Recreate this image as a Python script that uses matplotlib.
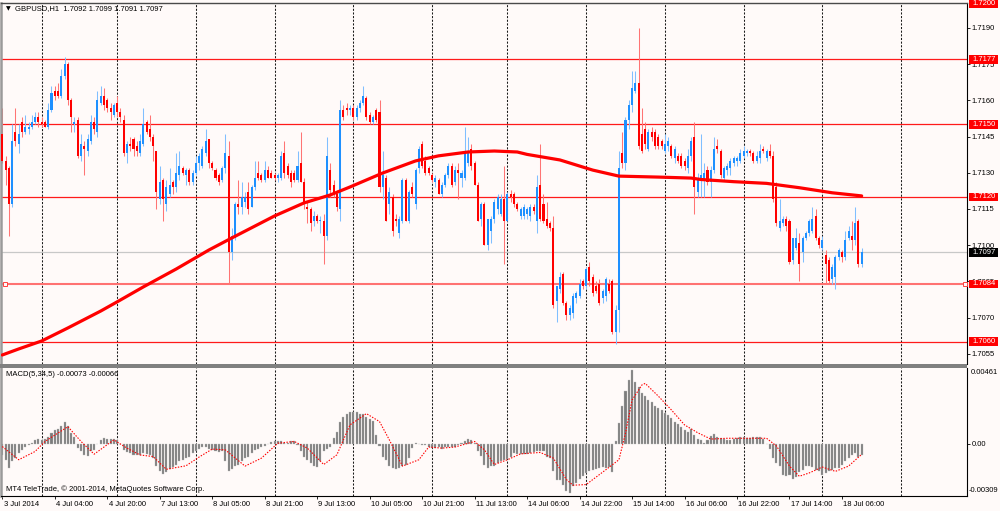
import matplotlib
matplotlib.use("Agg")
import matplotlib.pyplot as plt
from matplotlib.patches import Rectangle
from matplotlib.transforms import blended_transform_factory as blend
import numpy as np

plt.rcParams['font.family'] = ['Liberation Sans', 'DejaVu Sans']

# ---------------- data: prices in pips above 1.7000 ----------------
BASE = 1.7
PIP = 0.0001

opens = [
    146, 135, 132, 117, 147, 142, 151, 147, 148, 149,
    151, 153, 151, 151, 149, 156, 164, 164, 162, 170,
    175, 160, 150, 152, 137, 141, 139, 143, 151, 147,
    159, 162, 160, 157, 154, 159, 155, 152, 138, 142,
    144, 141, 138, 142, 151, 148, 145, 139, 119, 127,
    117, 121, 126, 124, 129, 132, 129, 131, 126, 130,
    134, 133, 138, 144, 134, 131, 129, 127, 132, 137,
    97, 103, 117, 116, 118, 122, 116, 124, 130, 129,
    127, 131, 130, 129, 128, 128, 138, 133, 130, 130,
    127, 134, 126, 116, 115, 110, 112, 110, 110, 104,
    131, 125, 121, 115, 156, 157, 156, 157, 153, 157,
    159, 161, 154, 151, 156, 155, 124, 128, 117, 120,
    111, 105, 110, 127, 110, 124, 117, 132, 142, 135,
    132, 129, 126, 127, 121, 125, 129, 133, 126, 131,
    128, 128, 134, 140, 134, 125, 111, 117, 100, 106,
    111, 115, 113, 119, 110, 121, 121, 117, 112, 112,
    113, 112, 116, 110, 125, 117, 111, 109, 107, 77,
    82, 88, 76, 71, 72, 78, 79, 85, 83, 91,
    87, 83, 84, 78, 79, 84, 85, 64, 73, 138,
    134, 152, 158, 164, 167, 146, 148, 140, 147, 147,
    145, 143, 139, 141, 141, 136, 137, 137, 135, 132,
    137, 145, 122, 128, 127, 131, 126, 131, 141, 139,
    128, 131, 132, 134, 135, 135, 137, 138, 139, 138,
    135, 136, 140, 136, 139, 137, 124, 107, 109, 111,
    110, 94, 99, 101, 97, 103, 105, 106, 112, 103,
    99, 96, 94, 86, 87, 95, 97, 95, 103, 104,
    102, 110, 92]

highs = [
    157, 137, 133, 150, 157, 150, 153, 154, 151, 154,
    155, 155, 153, 152, 159, 166, 166, 167, 173, 178,
    176, 161, 153, 153, 146, 143, 146, 154, 153, 164,
    166, 165, 161, 159, 159, 162, 157, 154, 143, 145,
    145, 143, 146, 157, 152, 154, 146, 139, 133, 128,
    127, 132, 127, 138, 139, 133, 132, 132, 131, 137,
    138, 141, 148, 144, 135, 132, 130, 133, 146, 143,
    107, 118, 127, 126, 122, 126, 125, 135, 135, 130,
    135, 133, 131, 130, 130, 139, 143, 134, 131, 131,
    139, 147, 128, 118, 116, 114, 113, 112, 113, 145,
    134, 127, 123, 160, 158, 159, 158, 158, 158, 160,
    166, 162, 155, 154, 157, 160, 139, 129, 124, 121,
    113, 112, 128, 128, 123, 126, 132, 141, 143, 137,
    133, 130, 129, 128, 126, 130, 134, 134, 133, 134,
    131, 149, 145, 142, 135, 126, 118, 118, 111, 112,
    119, 121, 121, 133, 122, 123, 122, 118, 116, 117,
    116, 117, 117, 129, 142, 121, 118, 110, 112, 83,
    89, 89, 77, 75, 80, 81, 86, 86, 91, 93,
    88, 85, 86, 82, 87, 86, 86, 75, 139, 147,
    153, 160, 172, 172, 190, 157, 151, 148, 149, 148,
    146, 144, 146, 145, 142, 141, 138, 138, 136, 140,
    145, 151, 130, 146, 134, 133, 133, 145, 144, 140,
    133, 134, 136, 137, 137, 140, 141, 140, 140, 139,
    139, 142, 141, 140, 142, 139, 126, 119, 112, 112,
    111, 103, 107, 105, 104, 106, 111, 116, 115, 104,
    104, 98, 95, 92, 96, 99, 98, 106, 108, 110,
    116, 111, 99]

lows = [
    134, 125, 104, 116, 141, 138, 145, 146, 146, 148,
    150, 149, 149, 149, 148, 155, 160, 161, 161, 169,
    158, 147, 147, 136, 135, 129, 137, 142, 146, 145,
    158, 156, 155, 152, 153, 153, 151, 137, 134, 139,
    137, 137, 137, 141, 146, 143, 135, 115, 117, 110,
    114, 120, 121, 122, 127, 129, 125, 125, 125, 129,
    131, 132, 137, 132, 131, 127, 125, 126, 130, 84,
    94, 102, 113, 113, 116, 113, 116, 123, 127, 126,
    126, 128, 128, 127, 126, 127, 128, 128, 124, 126,
    126, 126, 115, 109, 106, 108, 109, 105, 92, 102,
    120, 120, 114, 110, 152, 154, 154, 152, 152, 155,
    158, 152, 150, 150, 151, 122, 119, 110, 113, 104,
    108, 103, 109, 110, 109, 120, 115, 130, 132, 129,
    129, 126, 124, 121, 120, 124, 128, 124, 125, 119,
    124, 127, 133, 131, 125, 110, 108, 100, 98, 101,
    109, 113, 112, 92, 110, 118, 116, 114, 111, 111,
    111, 110, 113, 105, 110, 109, 107, 106, 74, 68,
    80, 75, 69, 69, 70, 76, 78, 82, 82, 83,
    79, 80, 75, 76, 77, 80, 63, 59, 64, 132,
    131, 148, 155, 163, 140, 138, 140, 139, 143, 140,
    140, 140, 138, 139, 136, 134, 134, 132, 131, 130,
    135, 113, 120, 120, 120, 125, 120, 130, 138, 128,
    127, 129, 129, 133, 133, 134, 136, 137, 137, 134,
    134, 134, 138, 135, 136, 118, 108, 106, 108, 106,
    92, 92, 98, 85, 93, 102, 104, 105, 102, 99,
    98, 84, 84, 84, 82, 94, 93, 94, 102, 98,
    100, 91, 91]

closes = [
    135, 131, 117, 143, 143, 146, 147, 149, 149, 151,
    153, 151, 150, 149, 156, 163, 162, 162, 170, 175,
    160, 153, 151, 137, 142, 140, 144, 151, 148, 160,
    162, 158, 157, 155, 158, 155, 153, 138, 142, 141,
    140, 139, 143, 150, 147, 145, 141, 122, 126, 119,
    124, 125, 124, 130, 133, 130, 131, 126, 130, 134,
    137, 140, 143, 134, 132, 128, 126, 132, 138, 97,
    104, 117, 116, 120, 120, 115, 124, 128, 128, 127,
    131, 128, 128, 128, 129, 137, 130, 129, 126, 127,
    133, 126, 117, 115, 109, 112, 110, 110, 104, 137,
    123, 121, 116, 156, 153, 156, 157, 153, 157, 159,
    162, 153, 151, 153, 152, 124, 129, 110, 122, 106,
    110, 111, 127, 110, 122, 121, 131, 140, 133, 130,
    130, 127, 128, 121, 125, 129, 133, 125, 131, 130,
    130, 138, 138, 133, 125, 110, 117, 100, 111, 111,
    118, 120, 119, 110, 121, 120, 117, 115, 115, 116,
    115, 116, 114, 124, 111, 110, 108, 107, 75, 83,
    87, 76, 71, 74, 79, 80, 84, 83, 90, 85,
    80, 81, 76, 81, 86, 81, 64, 73, 132, 134,
    152, 158, 165, 167, 141, 139, 142, 147, 145, 141,
    141, 141, 142, 143, 137, 140, 135, 133, 133, 137,
    143, 124, 128, 129, 130, 126, 131, 140, 140, 129,
    132, 133, 135, 136, 136, 138, 139, 139, 138, 135,
    137, 139, 139, 139, 137, 119, 109, 110, 111, 108,
    93, 103, 103, 92, 103, 105, 110, 111, 103, 100,
    102, 92, 85, 91, 95, 98, 95, 102, 106, 102,
    109, 92, 97]

# moving average (thick red line), sampled at bar indices
ma_idx = [0, 5, 12, 20, 30, 35, 43, 53, 63, 70, 83, 92, 100, 106, 116, 126,
          133, 142, 150, 157, 160, 170, 180, 188, 200, 210, 213, 223, 233,
          243, 253, 262]
ma_vals = [54.5, 57.0, 60.3, 65.7, 72.7, 76.5, 82.7, 90.1, 98.0, 103.0, 112.1,
           117.5, 120.8, 124.1, 129.9, 134.9, 137.0, 138.6, 139.0, 138.6,
           137.6, 135.3, 131.1, 128.6, 128.2, 127.8, 127.2, 126.3, 125.6,
           123.8, 121.7, 120.4]

# MACD histogram (units of 0.0001)
macd_hist = [
    -6.9, -10, -15, -11, -9, -6, -4, -2, -0.6, 0.8,
    2.5, 3, 2.5, 3, 4, 7, 8.8, 9.4, 11, 14,
    11, 7, 4, -2.7, -4.8, -6.9, -7.5, -4.8, -3.8, 0,
    2.5, 3.5, 3.3, 3.3, 3, 2.5, 0, -4, -5, -6,
    -7, -7.3, -7, -6, -6.3, -7, -9, -14, -17, -19,
    -18, -16, -14.6, -13, -11, -10, -9, -8, -6, -4.8,
    -3.3, -2, -2, -3.3, -4, -4.8, -5.4, -4.8, -11, -17,
    -16, -14, -13, -11, -9, -8, -6, -4, -3.3, -2,
    -1.3, 0, 1, 2, 1.9, 1.5, 0.8, 0.8, 1.5, 2,
    -0.6, -4.8, -8, -10, -12, -13.8, -14.6, -11, -4.8, -3.3,
    -2, 3.5, 7.7, 14, 17, 19, 20, 20, 20, 19,
    19, 17, 15.4, 14.6, 5.6, -1.3, -8, -10, -13.8, -15,
    -16, -15, -14, -13, -9, -2.7, 0.4, 0, -0.6, -0.6,
    -2, -2.7, -2.7, -2, -3.3, -2, -2, -1.7, -2, -0.6,
    0.4, 1.5, 3, 2.5, 0.4, -4.8, -7.5, -13, -15, -14,
    -13.8, -12, -11, -10.4, -9.6, -8, -5.8, -6.3, -6.3, -6.3,
    -6.3, -5.8, -5.4, -4.8, -4.2, -4.8, -8, -9, -17, -23,
    -23, -25.6, -29.5, -30.9, -26.7, -24.6, -22, -20, -18.3, -17.3,
    -16.3, -15.8, -15.2, -14.6, -15.2, -14.6, -18, 2, 13, 24,
    33, 40, 46.1, 39, 36, 32, 30, 27.5, 26, 23.8,
    22.3, 21.3, 19.6, 18, 16, 14, 12.5, 10.8, 8.8, 7.7,
    9.2, 5.6, 3, 2.5, 0.8, 2.5, 5, 6.3, 4.2, 3.5,
    3, 2.5, 2.5, 3, 3.5, 4.2, 4, 3.5, 3.5, 4,
    4.2, 4.2, 3, 0, -3.3, -9, -12, -14, -19.4, -20,
    -19.4, -22, -20.8, -18, -16.3, -14.2, -13.8, -14.6, -16.3, -17.3,
    -19.4, -18.3, -17.3, -16.3, -15.2, -15.2, -13, -11, -9, -6.9,
    -5.8, -8, -7.3]

# MACD signal line (units of 0.0001), sampled at bar indices
sig_idx = [0, 5, 10, 13, 20, 24, 28, 34, 38, 42, 46, 50, 56, 60, 64, 68, 74,
           79, 84, 89, 93, 98, 102, 106, 111, 115, 118, 122, 127, 130, 134,
           138, 144, 147, 150, 154, 158, 164, 168, 172, 174, 178, 184, 188,
           190, 192, 195, 196, 200, 204, 208, 212, 216, 221, 227, 233, 236,
           240, 243, 246, 250, 254, 258, 262]
sig_vals = [-1.7, -10, -4.8, 1.5, 10.8, 1.5, -6.5, 2.5, -2.7, -7, -8, -16,
            -13.8, -8.3, -3.3, -3.8, -14, -9, 0.4, 1.5, -2.7, -13, -6.9, 11.9,
            19, 14, 2.5, -14, -10, -2, -2.7, -2, 1.5, -3.8, -13, -10, -6.3,
            -5.4, -9, -22.5, -26, -25.6, -16.3, -10, 6.7, 27.5, 37, 38, 30,
            21.3, 11.9, 7, 3, 3.5, 3.5, 3.5, -1.3, -14, -20.4, -18.3, -14.6,
            -17.3, -14, -6.6]

date_labels = ["3 Jul 2014", "4 Jul 04:00", "4 Jul 20:00", "7 Jul 13:00",
               "8 Jul 05:00", "8 Jul 21:00", "9 Jul 13:00", "10 Jul 05:00",
               "10 Jul 21:00", "11 Jul 13:00", "14 Jul 06:00", "14 Jul 22:00",
               "15 Jul 14:00", "16 Jul 06:00", "16 Jul 22:00", "17 Jul 14:00",
               "18 Jul 06:00"]
label_step = 16
day_starts = [12, 35, 59, 83, 107, 131, 154, 178, 202, 226, 250, 274]

level_lines = [1.7177, 1.7150, 1.7120, 1.7084, 1.7060]
top_level = 1.7200          # line lies on the top edge; only its label shows
selected_level = 1.7084
bid = 1.7097
price_ticks = [1.7055, 1.7070, 1.7085, 1.7100, 1.7115, 1.7130, 1.7145,
               1.7160, 1.7175, 1.7190]
macd_max, macd_min = 0.00461, -0.00309
header = "GBPUSD,H1  1.7092 1.7099 1.7091 1.7097"
macd_title = "MACD(5,34,5) -0.00073 -0.00066"
copyright_txt = "MT4 TeleTrade, \u00a9 2001-2014, MetaQuotes Software Corp."

# ---------------- figure ----------------
W, H = 1000, 511
BG = '#fffaf9'
FS = 5.5
fig = plt.figure(figsize=(W / 100, H / 100), dpi=100, facecolor=BG)


def add_ax(l, t, r, b):
    a = fig.add_axes([l / W, 1 - b / H, (r - l) / W, (b - t) / H])
    a.set_facecolor(BG)
    return a


XL, XR = 1, 967
BAR_PX = 3.28
ax = add_ax(XL, 3, XR, 364)
axm = add_ax(XL, 368, XR, 495.5)
x0 = -(2.3 - XL) / BAR_PX
xlim = (x0, x0 + (XR - XL) / BAR_PX)

o = BASE + np.array(opens) * PIP
h = BASE + np.array(highs) * PIP
l = BASE + np.array(lows) * PIP
c = BASE + np.array(closes) * PIP
x = np.arange(len(c))
up = c >= o

# price panel
PX_PER_UNIT = 24137.0
ax.set_xlim(*xlim)
ax.set_ylim(1.7177 - (364 - 59.3) / PX_PER_UNIT, 1.7177 + (59.3 - 3) / PX_PER_UNIT)

grid_kw = dict(color='#1a1a1a', lw=0.75, ls=(0, (2.0, 1.5)), zorder=1)
for d in day_starts:
    ax.axvline(d, **grid_kw)
    axm.axvline(d, **grid_kw)

for lv in level_lines:
    if lv == selected_level:
        ax.axhline(lv, color='#ff7272', lw=1.5, zorder=1.5)
    else:
        ax.axhline(lv, color='#ff1a1a', lw=0.9, zorder=1.5)
ax.axhline(bid, color='#c8c8c8', lw=0.9, zorder=1.4)
tr_ad = blend(ax.transAxes, ax.transData)
ax.plot([0.004, 0.9975], [selected_level, selected_level], transform=tr_ad,
        ls='none', marker='s', ms=3.2, mfc=BG, mec='#ff4040', mew=0.7,
        clip_on=False, zorder=6)

body_col = np.where(up, '#1e90ff', '#ff0000')
wick_col = np.where(up, '#80bfff', '#ff7474')
ax.vlines(x, l, h, colors=wick_col, lw=0.75, zorder=2)
ax.bar(x, np.maximum(np.abs(c - o), 0.00003), bottom=np.minimum(o, c),
       width=0.62, color=body_col, lw=0, zorder=3)

ax.plot(ma_idx, BASE + np.array(ma_vals) * PIP, color='#ff0000', lw=2.3,
        solid_capstyle='round', solid_joinstyle='round', zorder=4)

ax.set_xticks([])
ax.yaxis.tick_right()
ax.set_yticks(price_ticks)
ax.set_yticklabels([f'{t:.4f}' for t in price_ticks])
ax.tick_params(axis='y', length=2.3, width=0.6, pad=1.2, labelsize=FS,
               colors='black')
ax.spines['bottom'].set_visible(False)
ax.spines['top'].set_color('#4a4a4a')
ax.spines['top'].set_linewidth(1.0)
ax.spines['left'].set_color('#9a9a9a')
ax.spines['left'].set_linewidth(1.8)
ax.spines['right'].set_color('black')
ax.spines['right'].set_linewidth(0.8)

# right-side price boxes
box_h = 8.5 / PX_PER_UNIT
bx0 = (969 - XL) / (XR - XL)
bx1 = (998.5 - XL) / (XR - XL)
boxes = [(top_level, '#ff0000')] + [(lv, '#ff0000') for lv in level_lines] \
    + [(bid, '#000000')]
for lv, col in boxes:
    ax.add_patch(Rectangle((bx0, lv - box_h / 2), bx1 - bx0, box_h,
                           transform=tr_ad, facecolor=col, edgecolor='none',
                           clip_on=False, zorder=7))
    ax.text((bx0 + bx1) / 2, lv, f'{lv:.4f}', transform=tr_ad, ha='center',
            va='center', fontsize=FS, color='white', clip_on=False, zorder=8)

# separator between panels
fig.add_artist(Rectangle((0, 1 - 367.6 / H), XR / W, 3.6 / H,
                         transform=fig.transFigure, facecolor='#808080',
                         edgecolor='none', zorder=5))

# MACD panel
MACD_K = (493 - 370.5) / (macd_max - macd_min)
axm.set_xlim(*xlim)
axm.set_ylim(macd_min - (495.5 - 493) / MACD_K, macd_max + (370.5 - 368) / MACD_K)
axm.bar(x, np.array(macd_hist) * PIP, width=0.62, color='#7c7c7c',
        edgecolor='#bdbdbd', lw=0.25, zorder=2)
axm.plot(sig_idx, np.array(sig_vals) * PIP, color='#ff0000', lw=0.8,
         ls=(0, (1.3, 1.3)), zorder=3)

axm.yaxis.tick_right()
axm.set_yticks([0.0])
axm.set_yticklabels(['0.00'])
axm.tick_params(axis='y', length=2.3, width=0.6, pad=1.2, labelsize=FS,
                colors='black')
tr_md = blend(axm.transAxes, axm.transData)
axm.text(1.004, macd_max - 2.3 / MACD_K, f'{macd_max:.5f}', transform=tr_md,
         ha='left', va='center', fontsize=FS, clip_on=False)
axm.text(1.002, macd_min + 3.0 / MACD_K, f'{macd_min:.5f}', transform=tr_md,
         ha='left', va='center', fontsize=FS, clip_on=False)

tick_pos = [i * label_step for i in range(len(date_labels))]
axm.set_xticks(tick_pos)
axm.tick_params(axis='x', length=2.3, width=0.6, direction='out',
                labelbottom=False, colors='black')
for pos, lab in zip(tick_pos, date_labels):
    axm.annotate(lab, xy=(pos, 0), xycoords=('data', 'axes fraction'),
                 xytext=(0.9, -3.6), textcoords='offset points', ha='left',
                 va='top', fontsize=FS, annotation_clip=False)

axm.spines['top'].set_visible(False)
axm.spines['left'].set_color('#9a9a9a')
axm.spines['left'].set_linewidth(1.8)
axm.spines['right'].set_color('black')
axm.spines['right'].set_linewidth(0.8)
axm.spines['bottom'].set_color('black')
axm.spines['bottom'].set_linewidth(0.8)

# texts
fig.text(5.5 / W, 1 - 8.3 / H, '\u25bc', fontsize=4.4, va='center', ha='left',
         family=['DejaVu Sans'])
fig.text(15 / W, 1 - 8.3 / H, header, fontsize=FS, va='center', ha='left')
fig.text(6 / W, 1 - 374.3 / H, macd_title, fontsize=FS, va='center', ha='left')
fig.text(6 / W, 1 - 489.3 / H, copyright_txt, fontsize=FS, va='center',
         ha='left')

fig.savefig('out.png', dpi=100, facecolor=BG)
